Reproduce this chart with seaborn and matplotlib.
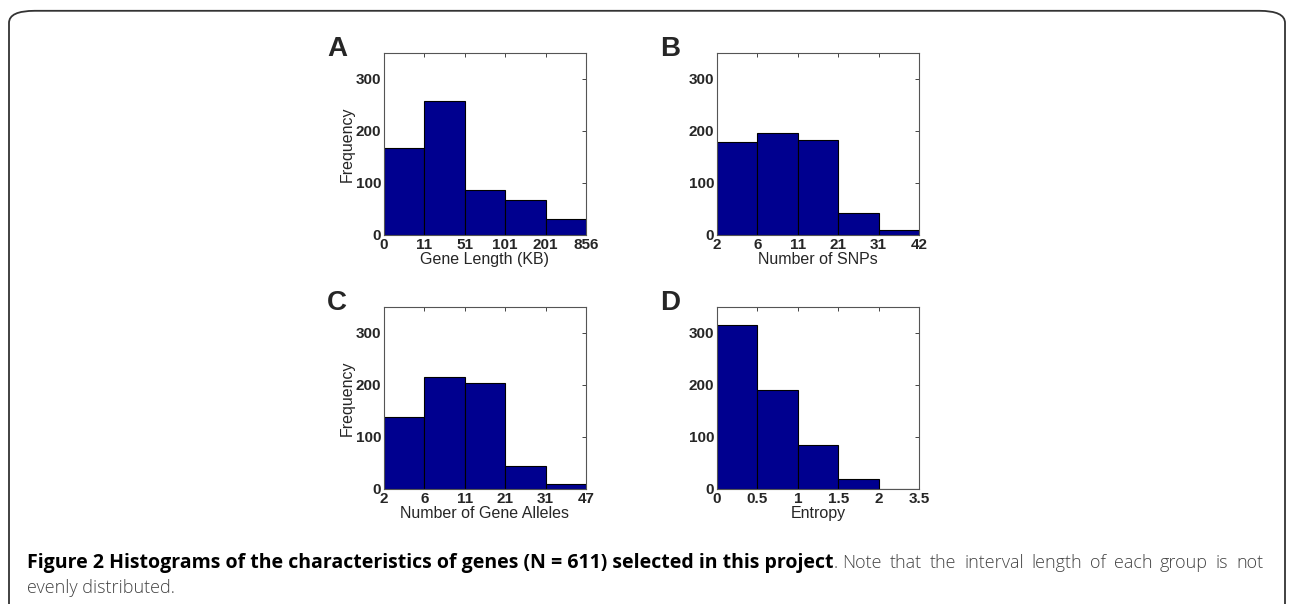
import matplotlib
matplotlib.use("Agg")
import matplotlib.pyplot as plt
from matplotlib.patches import FancyBboxPatch
import numpy as np
import pandas as pd
import seaborn as sns

# bin edges shown as tick labels (bins drawn with equal width)
gene_length_edges = ["0", "11", "51", "101", "201", "856"]
snp_edges = ["2", "6", "11", "21", "31", "42"]
allele_edges = ["2", "6", "11", "21", "31", "47"]
entropy_edges = ["0", "0.5", "1", "1.5", "2", "3.5"]

# frequencies per bin (N = 611)
gene_length_counts = [168, 258, 87, 67, 31]
snp_counts = [178, 197, 183, 43, 10]
allele_counts = [138, 215, 204, 44, 10]
entropy_counts = [316, 190, 85, 20, 0]

xlabels = ["Gene Length (KB)", "Number of SNPs", "Number of Gene Alleles", "Entropy"]
letters = ["A", "B", "C", "D"]

caption_bold = "Figure 2 Histograms of the characteristics of genes (N = 611) selected in this project"
caption_rest = "Note that the interval length of each group is not"
caption_line2 = "evenly distributed."

sns.set_style("white")
plt.rcParams["font.family"] = ["Liberation Sans", "DejaVu Sans"]

W, H = 1293, 604
fig = plt.figure(figsize=(W / 100, H / 100), dpi=100)

# rounded frame around the figure
frame = FancyBboxPatch((9 / W, -0.2), 1276 / W, (H + 120 - 10) / H,
                       boxstyle="round,pad=0,rounding_size=0.02",
                       transform=fig.transFigure, fill=False,
                       edgecolor="#333333", linewidth=1.3)
fig.patches.append(frame)

panels = [
    (gene_length_edges, gene_length_counts, 384, 53),
    (snp_edges, snp_counts, 717, 53),
    (allele_edges, allele_counts, 384, 307),
    (entropy_edges, entropy_counts, 717, 307),
]
aw, ah = 202, 182

for i, (edges, counts, px, py) in enumerate(panels):
    ax = fig.add_axes([px / W, 1 - (py + ah) / H, aw / W, ah / H])
    nb = len(counts)
    df = pd.DataFrame({"pos": np.arange(nb) + 0.5, "n": counts})
    sns.histplot(data=df, x="pos", weights="n", binwidth=1, binrange=(0, nb),
                 color="#00008F", edgecolor="black", linewidth=0.8, alpha=1, ax=ax)
    ax.set_xlim(0, nb)
    ax.set_ylim(0, 350)
    ax.set_xticks(np.arange(len(edges)))
    ax.set_xticklabels(edges, fontsize=11, fontweight="bold")
    ax.set_yticks([0, 100, 200, 300])
    ax.set_yticklabels(["0", "100", "200", "300"], fontsize=11, fontweight="bold")
    ax.tick_params(direction="in", length=3, top=True, right=True, pad=2,
                   width=0.7, color="#444444")
    ax.set_xlabel(xlabels[i], fontsize=11.5, labelpad=0)
    if i % 2 == 0:
        ax.set_ylabel("Frequency", fontsize=11.5, labelpad=1)
    else:
        ax.set_ylabel("")
    for s in ax.spines.values():
        s.set_color("#555555")
        s.set_linewidth(0.8)
    fig.text((px - 57) / W, 1 - (py + 3) / H, letters[i], fontsize=20,
             fontweight="bold", ha="left", va="baseline")

# caption: bold part set naturally, the rest of line 1 justified to the right edge
cap_font = ["Open Sans", "DejaVu Sans"]
renderer = fig.canvas.get_renderer()
y1 = 1 - 568 / H
x_left, x_right = 27, 1263
reg_size = 13

bold = fig.text(x_left / W, y1, caption_bold, fontsize=14, fontweight="bold",
                family=cap_font, va="baseline", color="black")
x = bold.get_window_extent(renderer).x1
dot = fig.text(x / W, y1, ".", fontsize=reg_size, family=cap_font,
               fontweight="light", va="baseline", color="#444444")
x = dot.get_window_extent(renderer).x1 + 5

words = caption_rest.split()
widths = []
for w in words:
    t = fig.text(0, 0, w, fontsize=reg_size, family=cap_font, fontweight="light")
    widths.append(t.get_window_extent(renderer).width)
    t.remove()
gap = (x_right - x - sum(widths)) / (len(words) - 1)
for w, wd in zip(words, widths):
    fig.text(x / W, y1, w, fontsize=reg_size, family=cap_font, fontweight="light",
             va="baseline", color="#444444")
    x += wd + gap

fig.text(x_left / W, 1 - 593 / H, caption_line2, fontsize=reg_size, fontweight="light",
         family=cap_font, va="baseline", color="#444444")

fig.savefig("out.png", dpi=100)
